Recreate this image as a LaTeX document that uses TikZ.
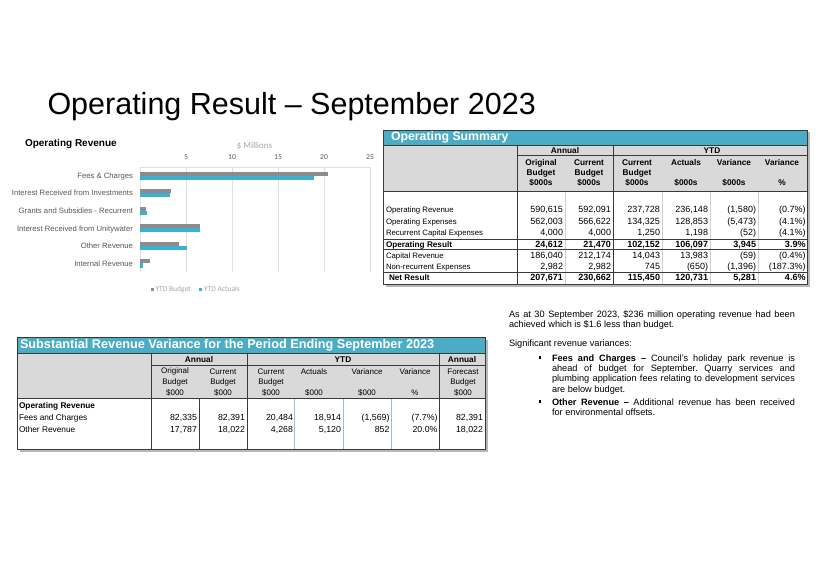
\documentclass[tikz,border=0pt]{standalone}
\usepackage{fontspec}
\setmainfont{Liberation Sans}
\newfontfamily\chartfont{Carlito}
\newcommand\fsz[1]{\fontsize{#1}{#1}\selectfont}
\definecolor{hdrblue}{HTML}{4BACC6}
\definecolor{barblue}{HTML}{3CB0CF}
\definecolor{bargray}{HTML}{8C8C8C}
\definecolor{hdrgray}{HTML}{D9D9D9}
\definecolor{gridgray}{HTML}{E0E0E0}
\definecolor{labgray}{HTML}{595959}
\definecolor{lightlab}{HTML}{A6A6A6}
\definecolor{rulegray}{HTML}{3A3A3A}
\definecolor{sepblue}{HTML}{8DC3DD}
\definecolor{sepgray}{HTML}{D0D0D0}
\tikzset{
  txt/.style={inner sep=0, outer sep=0},
  gridline/.style={draw=gridgray, line width=0.6},
  catlab/.style={txt, anchor=mid east, font=\fsz{7.7}, text=labgray},
  ticklab/.style={txt, font=\chartfont\fsz{7.6}, text=labgray},
  leglab/.style={txt, anchor=mid west, font=\chartfont\fsz{7.5}, text=lightlab},
  tabtitle/.style={txt, anchor=mid west, font=\fsz{12.3}\bfseries, text=white},
  oshead/.style={txt, font=\fsz{8.3}\bfseries},
  oslab/.style={txt, anchor=mid west, font=\fsz{7.8}},
  osnum/.style={txt, anchor=mid east, font=\fsz{9}},
  srhead/.style={txt, font=\fsz{8}},
  srhbold/.style={txt, font=\fsz{8.3}\bfseries},
  srlab/.style={txt, anchor=mid west, font=\fsz{8.3}},
  srnum/.style={txt, anchor=mid east, font=\fsz{8.8}},
  darkrule/.style={draw=rulegray, line width=0.9},
  thinrule/.style={draw=rulegray, line width=0.6},
  lightrule/.style={draw=sepgray, line width=0.6},
  bluerule/.style={draw=sepblue, line width=0.8},
  para/.style={txt, anchor=base west, align=justify, font={\fontsize{9.2}{10.3}\selectfont\frenchspacing}},
  bulletsq/.style={fill=black, minimum size=2.4pt, inner sep=0, outer sep=0},
}
\newcommand\osrow[9][]{%
  \node[osnum,#1] (#2c1) at (563,#3) {#4};
  \node[osnum,#1] (#2c2) at (611,#3) {#5};
  \node[osnum,#1] (#2c3) at (660,#3) {#6};
  \node[osnum,#1] (#2c4) at (708,#3) {#7};
  \node[osnum,#1] (#2c5) at (756,#3) {#8};
  \node[osnum,#1] (#2c6) at (805.5,#3) {#9};}
\newcommand\srrow[9]{%
  \node[srnum] (#1c1) at (197,#2) {#3};
  \node[srnum] (#1c2) at (245,#2) {#4};
  \node[srnum] (#1c3) at (293,#2) {#5};
  \node[srnum] (#1c4) at (341,#2) {#6};
  \node[srnum] (#1c5) at (389.5,#2) {#7};
  \node[srnum] (#1c6) at (437.5,#2) {#8};
  \node[srnum] (#1c7) at (483,#2) {#9};}
\begin{document}
\begin{tikzpicture}[x=1pt,y=-1pt]
\useasboundingbox[fill=white] (0,0) rectangle (821,580);

% ---------- page title
\node[txt, anchor=base west, font=\fsz{30.5}] (title) at (47.5,115) {Operating Result – September 2023};

% ---------- chart
\node[txt, anchor=mid west, font=\fsz{10}\bfseries] (chtitle) at (25,144) {Operating Revenue};
\node[txt, font=\chartfont\fsz{8.9}, text=lightlab] (units) at (254.5,145.5) {\$ Millions};
\foreach \k in {0,...,5} \draw[gridline] (140+46*\k,167) -- (140+46*\k,272);
\draw[gridline] (140,167) -- (370,167);
\foreach \k/\t in {1/5,2/10,3/15,4/20,5/25}
  \node[ticklab] (tick\k) at (140+46*\k,157.3) {\t};
\foreach \lab/\b/\a [count=\i] in {Fees \& Charges/20.48/18.91,
    Interest Received from Investments/3.4/3.25,
    Grants and Subsidies - Recurrent/0.7/0.8,
    Interest Received from Unitywater/6.5/6.5,
    Other Revenue/4.27/5.12,
    Internal Revenue/1.1/0.3}{
  \pgfmathsetmacro\yc{175.8+17.52*(\i-1)}
  \fill[bargray] (140,\yc-4.1) rectangle (140+9.2*\b,\yc);
  \fill[barblue] (140,\yc) rectangle (140+9.2*\a,\yc+4.1);
  \node[catlab] (cat\i) at (133,\yc) {\lab};
}
\node[bulletsq, fill=bargray, minimum size=3pt] (legbsq) at (152,289) {};
\node[leglab] (legb) at (155.5,289) {YTD Budget};
\node[bulletsq, fill=barblue, minimum size=3pt] (legasq) at (200.5,289) {};
\node[leglab] (lega) at (204,289) {YTD Actuals};

% ---------- Operating Summary table
\fill[black!28] (385.5,132.5) rectangle (809.5,286.5);
\fill[white] (383,130) rectangle (807,284);
\fill[hdrblue] (383,130) rectangle (807,145);
\fill[hdrgray] (383,145) rectangle (807,191);
\node[tabtitle] (ostitle) at (391,138) {Operating Summary};
\foreach \x in {565,662,710,758} \draw[lightrule] (\x,191) -- (\x,284);
\draw[thinrule] (517,155) -- (807,155);
\draw[darkrule] (383,145) -- (807,145);
\draw[darkrule] (383,191) -- (807,191);
\draw[darkrule] (517,145) -- (517,284);
\draw[darkrule] (613,145) -- (613,284);
\draw[thinrule] (383,239.3) -- (807,239.3);
\draw[thinrule] (383,249.6) -- (807,249.6);
\draw[thinrule] (383,272.3) -- (807,272.3);
\node[oshead] (osann) at (565,150.5) {Annual};
\node[oshead] (osytd) at (712,150.5) {YTD};
\foreach \cx/\la/\lb/\lc [count=\j] in {541/Original/Budget/\$000s, 589/Current/Budget/\$000s,
    637/Current/Budget/\$000s, 686/Actuals//\$000s, 734/Variance//\$000s, 782/Variance//\%}{
  \node[oshead] (osh\j a) at (\cx,163) {\la};
  \node[oshead] (osh\j b) at (\cx,173) {\lb};
  \node[oshead] (osh\j c) at (\cx,183) {\lc};
}
\node[oslab] (osl1) at (386,210) {Operating Revenue};
\node[oslab] (osl2) at (386,221.4) {Operating Expenses};
\node[oslab] (osl3) at (386,232.8) {Recurrent Capital Expenses};
\node[oslab, font=\fsz{8.2}\bfseries] (osl4) at (386,244.4) {Operating Result};
\node[oslab] (osl5) at (386,256) {Capital Revenue};
\node[oslab] (osl6) at (386,266.8) {Non-recurrent Expenses};
\node[oslab, font=\fsz{8.2}\bfseries] (osl7) at (389,278.3) {Net Result};
\osrow{osa}{210}{590,615}{592,091}{237,728}{236,148}{(1,580)}{(0.7\%)}
\osrow{osb}{221.4}{562,003}{566,622}{134,325}{128,853}{(5,473)}{(4.1\%)}
\osrow{osc}{232.8}{4,000}{4,000}{1,250}{1,198}{(52)}{(4.1\%)}
\osrow[font=\fsz{9}\bfseries]{osd}{244.4}{24,612}{21,470}{102,152}{106,097}{3,945}{3.9\%}
\osrow{ose}{256}{186,040}{212,174}{14,043}{13,983}{(59)}{(0.4\%)}
\osrow{osf}{266.8}{2,982}{2,982}{745}{(650)}{(1,396)}{(187.3\%)}
\osrow[font=\fsz{9}\bfseries]{osg}{278.3}{207,671}{230,662}{115,450}{120,731}{5,281}{4.6\%}
\draw[darkrule] (383,130) rectangle (807,284);

% ---------- Substantial Revenue Variance table
\fill[black!28] (19.5,339.5) rectangle (487.5,451.5);
\fill[white] (17,337) rectangle (485,449);
\fill[hdrblue] (17,337) rectangle (485,353);
\fill[hdrgray] (17,353) rectangle (485,398);
\node[tabtitle, font=\fsz{12.7}\bfseries] (srtitle) at (20,345.5) {Substantial Revenue Variance for the Period Ending September 2023};
\foreach \x in {294,343,391} \draw[bluerule] (\x,398) -- (\x,449);
\draw[darkrule] (17,353) -- (485,353);
\draw[thinrule] (151,365) -- (485,365);
\draw[darkrule] (17,398) -- (485,398);
\draw[darkrule] (151,353) -- (151,449);
\draw[darkrule] (199,398) -- (199,449);
\draw[darkrule] (247,353) -- (247,449);
\draw[darkrule] (439,353) -- (439,449);
\node[srhbold] (srann1) at (199,359.3) {Annual};
\node[srhbold] (srytd) at (343,359.3) {YTD};
\node[srhbold] (srann2) at (462,359.3) {Annual};
\foreach \cx/\la/\lb/\lc [count=\j] in {175/Original/Budget/\$000, 223/Current/Budget/\$000,
    271/Current/Budget/\$000, 314/Actuals//\$000, 367/Variance//\$000, 415/Variance//\%,
    463/Forecast/Budget/\$000}{
  \node[srhead] (srh\j a) at (\cx,371.8) {\la};
  \node[srhead] (srh\j b) at (\cx,382.3) {\lb};
  \node[srhead] (srh\j c) at (\cx,392.8) {\lc};
}
\node[srlab, font=\fsz{8.3}\bfseries] (srl1) at (19,406) {Operating Revenue};
\node[srlab] (srl2) at (19,418.3) {Fees and Charges};
\node[srlab] (srl3) at (19,430) {Other Revenue};
\srrow{sra}{418.3}{82,335}{82,391}{20,484}{18,914}{(1,569)}{(7.7\%)}{82,391}
\srrow{srb}{430}{17,787}{18,022}{4,268}{5,120}{852}{20.0\%}{18,022}
\draw[darkrule] (17,337) rectangle (485,449);

% ---------- commentary
\node[para, text width=286pt] (p1) at (509,317.3)
  {As at 30 September 2023, \$236 million operating revenue had been\linebreak
   achieved which is \$1.6 less than budget.};
\node[para, text width=286pt] (p2) at (509,346.2) {Significant revenue variances:};
\node[bulletsq] (bul1) at (540,357.5) {};
\node[para, text width=243pt] (b1) at (552,361.3)
  {\textbf{Fees and Charges –} Council’s holiday park revenue is\linebreak
   ahead of budget for September. Quarry services and\linebreak
   plumbing application fees relating to development services\linebreak
   are below budget.};
\node[bulletsq] (bul2) at (540,401.5) {};
\node[para, text width=243pt] (b2) at (552,405.3)
  {\textbf{Other Revenue –} Additional revenue has been received\linebreak
   for environmental offsets.};
\end{tikzpicture}
\end{document}
